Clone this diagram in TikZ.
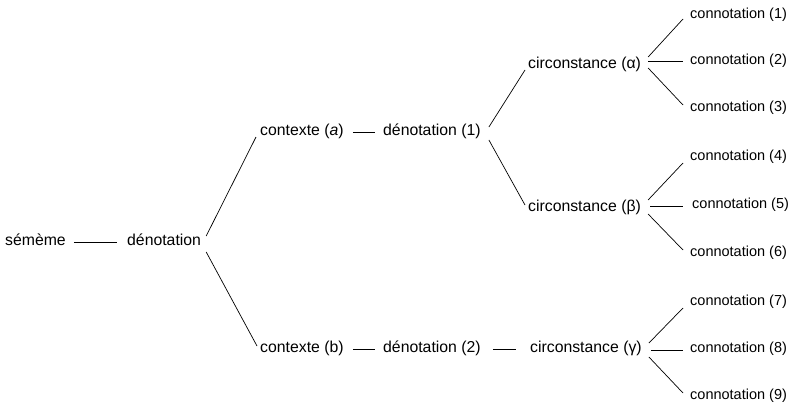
\documentclass[tikz,border=0pt]{standalone}
\usepackage{fontspec}
\setmainfont{Liberation Sans}
\begin{document}
\begin{tikzpicture}[x=1pt,y=-1pt,
  lbl/.style={inner sep=0pt, anchor=west, text height=11pt, text depth=3.3pt, font=\fontsize{15.8pt}{18pt}\selectfont},
  conn/.style={lbl, text height=10.2pt, text depth=3pt, font=\fontsize{14.5pt}{17pt}\selectfont},
  edge/.style={line width=0.7pt, black}]
\useasboundingbox (0,0) rectangle (800,407);
\node[lbl] (sem) at (5,242) {sémème};
\node[lbl] (den) at (127,242) {dénotation};
\node[lbl] (ca) at (260,132) {contexte (\textit{a})};
\node[lbl] (d1) at (383,132) {dénotation (1)};
\node[lbl] (cal) at (528,65) {circonstance (α)};
\node[conn] (c1) at (690,15) {connotation (1)};
\node[conn] (c2) at (690,61) {connotation (2)};
\node[conn] (c3) at (690,108) {connotation (3)};
\node[lbl] (cbe) at (528,208) {circonstance (β)};
\node[conn] (c4) at (690,157) {connotation (4)};
\node[conn] (c5) at (692,205) {connotation (5)};
\node[conn] (c6) at (690,253) {connotation (6)};
\node[lbl] (cb) at (260,349) {contexte (b)};
\node[lbl] (d2) at (383,349) {dénotation (2)};
\node[lbl] (cga) at (530,349) {circonstance (γ)};
\node[conn] (c7) at (690,302) {connotation (7)};
\node[conn] (c8) at (690,349) {connotation (8)};
\node[conn] (c9) at (690,396) {connotation (9)};
\draw[edge] ([xshift=8pt]sem.east) -- ([xshift=-10pt]den.west);
\draw[edge] ([shift={(5,-6)}]den.east) -- ([shift={(-4,5)}]ca.west);
\draw[edge] ([shift={(5,10)}]den.east) -- ([shift={(-3,-3)}]cb.west);
\draw[edge] ([xshift=9pt]ca.east) -- ([xshift=-8pt]d1.west);
\draw[edge] ([shift={(8,-5)}]d1.east) -- ([shift={(-3,5)}]cal.west);
\draw[edge] ([shift={(8,8)}]d1.east) -- ([shift={(-3,-3)}]cbe.west);
\draw[edge] ([xshift=9pt]cb.east) -- ([xshift=-8pt]d2.west);
\draw[edge] ([xshift=12pt]d2.east) -- ([xshift=-14pt]cga.west);
\draw[edge] ([shift={(7,-8)}]cal.east) -- ([shift={(-7,4)}]c1.west);
\draw[edge] ([shift={(7,-4)}]cal.east) -- ([shift={(-7,0)}]c2.west);
\draw[edge] ([shift={(7,3)}]cal.east) -- ([shift={(-7,-3)}]c3.west);
\draw[edge] ([shift={(7,-8)}]cbe.east) -- ([shift={(-7,6)}]c4.west);
\draw[edge] ([shift={(9,-2)}]cbe.east) -- ([shift={(-9,1)}]c5.west);
\draw[edge] ([shift={(7,6)}]cbe.east) -- ([shift={(-7,-3)}]c6.west);
\draw[edge] ([shift={(7,-6)}]cga.east) -- ([shift={(-7,6)}]c7.west);
\draw[edge] ([shift={(9,1)}]cga.east) -- ([shift={(-7,1)}]c8.west);
\draw[edge] ([shift={(7,8)}]cga.east) -- ([shift={(-7,-3)}]c9.west);
\end{tikzpicture}
\end{document}
